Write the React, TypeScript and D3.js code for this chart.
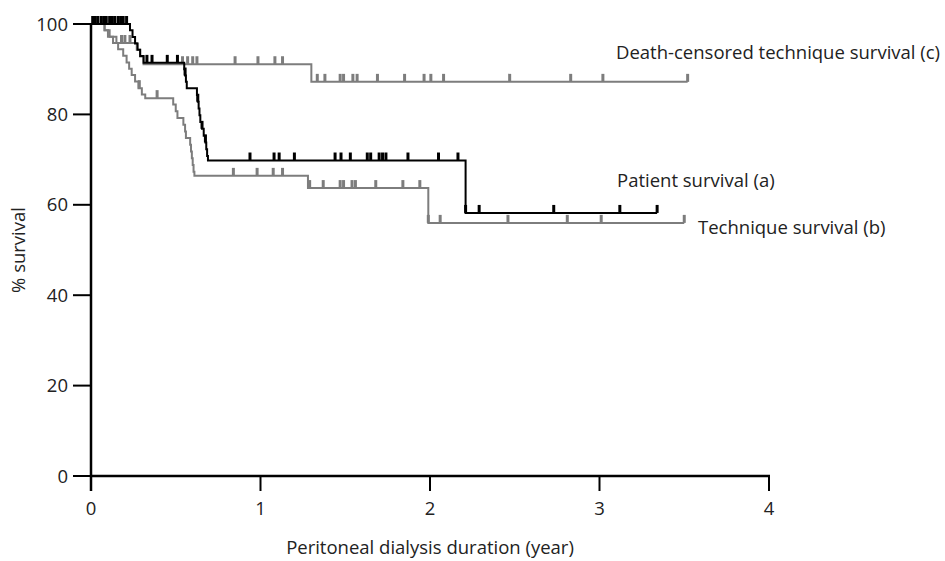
import React from "react";
import * as d3 from "d3";

// Kaplan-Meier step events: [year, % survival after the drop]
const patientDrops: [number, number][] = [
  [0.23, 98.6], [0.245, 97.1], [0.26, 95.7], [0.275, 94.3], [0.29, 92.9], [0.31, 91.4],
  [0.55, 90.0], [0.555, 88.6], [0.56, 87.2], [0.565, 85.8],
  [0.625, 84.3], [0.63, 82.8], [0.635, 81.3], [0.64, 79.8], [0.645, 78.3],
  [0.655, 76.8], [0.665, 75.3], [0.675, 73.8], [0.68, 72.3], [0.685, 70.8], [0.69, 69.8],
  [2.21, 58.2],
];
const patientEnd = 3.34;
const patientCensor = [
  0.01, 0.025, 0.04, 0.06, 0.075, 0.09, 0.11, 0.125, 0.14, 0.16, 0.175, 0.19, 0.21,
  0.33, 0.36, 0.45, 0.51, 0.555, 0.63, 0.655, 0.675,
  0.938, 1.08, 1.11, 1.2, 1.44, 1.475, 1.53, 1.63, 1.65, 1.7, 1.72, 1.74, 1.87, 2.05, 2.165,
  2.21, 2.29, 2.73, 3.12, 3.34,
];

const techniqueDrops: [number, number][] = [
  [0.08, 98.6], [0.1, 97.2], [0.13, 95.8], [0.16, 94.4], [0.19, 93.0], [0.21, 91.5],
  [0.225, 90.1], [0.24, 88.7], [0.26, 87.3], [0.28, 85.8], [0.3, 84.4], [0.32, 83.6],
  [0.485, 82.2], [0.5, 80.7], [0.51, 79.2], [0.545, 77.7], [0.555, 76.2], [0.56, 74.8],
  [0.585, 73.3], [0.59, 71.8], [0.595, 70.3], [0.6, 68.8], [0.605, 67.3], [0.61, 66.4],
  [1.28, 63.7], [1.99, 56.0],
];
const techniqueEnd = 3.5;
const techniqueCensor = [
  0.285, 0.39, 0.84, 0.98, 1.075, 1.13, 1.29, 1.37, 1.47, 1.49, 1.54, 1.56, 1.68, 1.84,
  1.94, 1.99, 2.06, 2.46, 2.81, 3.01, 3.5,
];

const deathCensoredDrops: [number, number][] = [
  [0.08, 98.6], [0.11, 97.2], [0.15, 95.8], [0.27, 94.3], [0.29, 92.8], [0.31, 91.1],
  [1.3, 87.2],
];
const deathCensoredEnd = 3.52;
const deathCensoredCensor = [
  0.18, 0.2, 0.23, 0.54, 0.57, 0.6, 0.625, 0.85, 0.985, 1.085, 1.13,
  1.335, 1.38, 1.47, 1.49, 1.545, 1.57, 1.69, 1.85, 1.965, 2.005, 2.08, 2.47, 2.83, 3.02, 3.52,
];

const xTicks = [0, 1, 2, 3, 4];
const yTicks = [0, 20, 40, 60, 80, 100];

const W = 945;
const H = 561;
const FONT = "'Open Sans', sans-serif";
const FS = 18.5;
const GRAY = "#7d7d7d";
const INK = "#222";

const x = d3.scaleLinear().domain([0, 4]).range([91, 769]);
const y = d3.scaleLinear().domain([0, 100]).range([476, 24]);

const valueAt = (drops: [number, number][], t: number) => {
  let s = 100;
  for (const [dt, ds] of drops) if (dt <= t + 1e-9) s = ds;
  return s;
};

const stepPath = (drops: [number, number][], end: number) => {
  const pts: [number, number][] = [[0, 100], ...drops, [end, drops[drops.length - 1][1]]];
  return d3
    .line<[number, number]>()
    .x((d) => x(d[0]))
    .y((d) => y(d[1]))
    .curve(d3.curveStepAfter)(pts) as string;
};

const Curve = ({ drops, end, censor, color, width }: any) => (
  <g>
    <path d={stepPath(drops, end)} fill="none" stroke={color} strokeWidth={width} />
    {censor.map((t: number, i: number) => (
      <line
        key={i}
        x1={x(t)}
        x2={x(t)}
        y1={y(valueAt(drops, t))}
        y2={y(valueAt(drops, t)) - 8}
        stroke={color}
        strokeWidth={3}
      />
    ))}
  </g>
);

export default function App() {
  return (
    <svg
      width={W}
      height={H}
      style={{ position: "absolute", left: 0, top: 0, background: "#fff" }}
      fontFamily={FONT}
    >
      <Curve drops={deathCensoredDrops} end={deathCensoredEnd} censor={deathCensoredCensor} color={GRAY} width={2} />
      <Curve drops={techniqueDrops} end={techniqueEnd} censor={techniqueCensor} color={GRAY} width={2} />
      <Curve drops={patientDrops} end={patientEnd} censor={patientCensor} color="#000" width={2} />

      {/* axes */}
      <line x1={x(0)} x2={x(0)} y1={y(100) - 1} y2={y(0) + 15} stroke="#000" strokeWidth={2.5} />
      <line x1={x(0)} x2={x(4) + 1} y1={y(0)} y2={y(0)} stroke="#000" strokeWidth={2.5} />
      {yTicks.map((v) => (
        <g key={v}>
          <line x1={x(0) - 18} x2={x(0)} y1={y(v)} y2={y(v)} stroke="#000" strokeWidth={2} />
          <text x={x(0) - 23} y={y(v)} dy="0.36em" textAnchor="end" fontSize={FS} fill={INK}>
            {v}
          </text>
        </g>
      ))}
      {xTicks.map((v) => (
        <g key={v}>
          <line x1={x(v)} x2={x(v)} y1={y(0)} y2={y(0) + 15} stroke="#000" strokeWidth={2} />
          <text x={x(v)} y={515} textAnchor="middle" fontSize={FS} fill={INK}>
            {v}
          </text>
        </g>
      ))}
      <text x={(x(0) + x(4)) / 2} y={554} textAnchor="middle" fontSize={FS} fill={INK}>
        Peritoneal dialysis duration (year)
      </text>
      <text
        transform={`translate(25,${y(50)}) rotate(-90)`}
        textAnchor="middle"
        fontSize={FS}
        fill={INK}
      >
        % survival
      </text>

      {/* curve labels */}
      <text x={616} y={59} fontSize={FS} fill={INK}>Death-censored technique survival (c)</text>
      <text x={617} y={187} fontSize={FS} fill={INK}>Patient survival (a)</text>
      <text x={698} y={234} fontSize={FS} fill={INK}>Technique survival (b)</text>
    </svg>
  );
}
